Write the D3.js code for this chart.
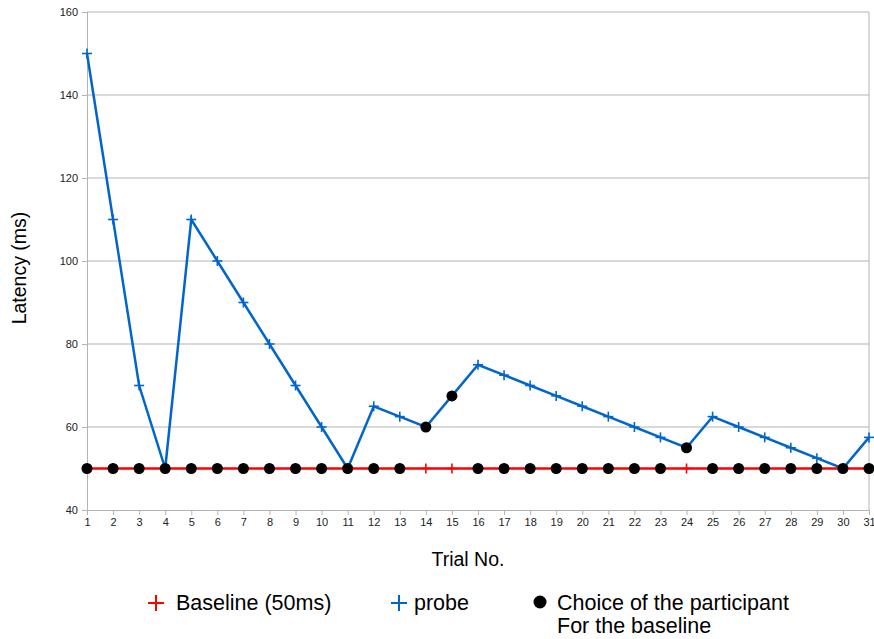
<!DOCTYPE html>
<html><head><meta charset="utf-8">
<script src="https://cdn.jsdelivr.net/npm/d3@7"></script>
<style>body{margin:0;background:#fff}svg{display:block;font-family:"Liberation Sans",Arial,sans-serif}</style>
</head><body><svg id="c" width="874" height="639"></svg>
<script>
const trials = d3.range(1, 32);
const baseline = trials.map(() => 50);
const probe = [150,110,70,50,110,100,90,80,70,60,50,65,62.5,60,67.5,75,72.5,70,67.5,65,62.5,60,57.5,55,62.5,60,57.5,55,52.5,50,57.5];
const choice = [50,50,50,50,50,50,50,50,50,50,50,50,50,60,67.5,50,50,50,50,50,50,50,50,55,50,50,50,50,50,50,50];
const yTicks = [40,60,80,100,120,140,160];

const svg = d3.select("#c");
const x = d3.scalePoint().domain(trials).range([87, 869]);
const y = d3.scaleLinear().domain([40,160]).range([510, 12]);

// grid
svg.append("g").selectAll("line").data(yTicks.slice(1)).join("line")
  .attr("x1",87).attr("x2",869).attr("y1",d=>y(d)).attr("y2",d=>y(d))
  .attr("stroke","#b3b3b3").attr("stroke-width",1);
svg.append("line").attr("x1",869).attr("x2",869).attr("y1",12).attr("y2",510).attr("stroke","#b3b3b3");

const yAxis = svg.append("g").attr("transform","translate(87,0)")
  .call(d3.axisLeft(y).tickValues(yTicks).tickSize(5).tickPadding(4));
const xAxis = svg.append("g").attr("transform","translate(0,510)")
  .call(d3.axisBottom(x).tickSize(5).tickPadding(3));
[yAxis,xAxis].forEach(a=>{
  a.select(".domain").attr("stroke","#b3b3b3");
  a.selectAll(".tick line").attr("stroke","#b3b3b3");
  a.selectAll("text").attr("fill","#222").style("font-size","11px").style("font-family","'Liberation Sans',Arial,sans-serif");
});

const line = d3.line().x((d,i)=>x(trials[i])).y(d=>y(d));
function crosses(data, color){
  const g = svg.append("g").attr("stroke",color).attr("stroke-width",1.6);
  g.selectAll(".h").data(data).join("line")
    .attr("x1",(d,i)=>x(trials[i])-5).attr("x2",(d,i)=>x(trials[i])+5)
    .attr("y1",d=>y(d)).attr("y2",d=>y(d));
  g.selectAll(".v").data(data).join("line")
    .attr("x1",(d,i)=>x(trials[i])).attr("x2",(d,i)=>x(trials[i]))
    .attr("y1",d=>y(d)-5).attr("y2",d=>y(d)+5);
}
svg.append("path").datum(baseline).attr("d",line).attr("fill","none").attr("stroke","#ff0000").attr("stroke-width",2.5);
crosses(baseline,"#ff0000");
svg.append("path").datum(probe).attr("d",line).attr("fill","none").attr("stroke","#0066cc").attr("stroke-width",2.5);
crosses(probe,"#0066cc");
svg.append("g").selectAll("circle").data(choice).join("circle")
  .attr("cx",(d,i)=>x(trials[i])).attr("cy",d=>y(d)).attr("r",5.5).attr("fill","#000");

// titles
svg.append("text").attr("transform","translate(26,268) rotate(-90)").attr("text-anchor","middle")
  .style("font-size","19.5px").attr("fill","#000").text("Latency (ms)");
svg.append("text").attr("x",468).attr("y",566).attr("text-anchor","middle")
  .style("font-size","19.5px").attr("fill","#000").text("Trial No.");

// legend
const lg = svg.append("g").style("font-size","21.5px");
function legCross(cx,cy,color){
  lg.append("line").attr("x1",cx-8).attr("x2",cx+8).attr("y1",cy).attr("y2",cy).attr("stroke",color).attr("stroke-width",2);
  lg.append("line").attr("x1",cx).attr("x2",cx).attr("y1",cy-8).attr("y2",cy+8).attr("stroke",color).attr("stroke-width",2);
}
legCross(156,603,"#ff0000");
lg.append("text").attr("x",176).attr("y",610).text("Baseline (50ms)");
legCross(399,603,"#0066cc");
lg.append("text").attr("x",414).attr("y",610).text("probe");
lg.append("circle").attr("cx",540).attr("cy",602).attr("r",6.5).attr("fill","#000");
lg.append("text").attr("x",557).attr("y",610).text("Choice of the participant");
lg.append("text").attr("x",557).attr("y",633).text("For the baseline");
</script></body></html>
